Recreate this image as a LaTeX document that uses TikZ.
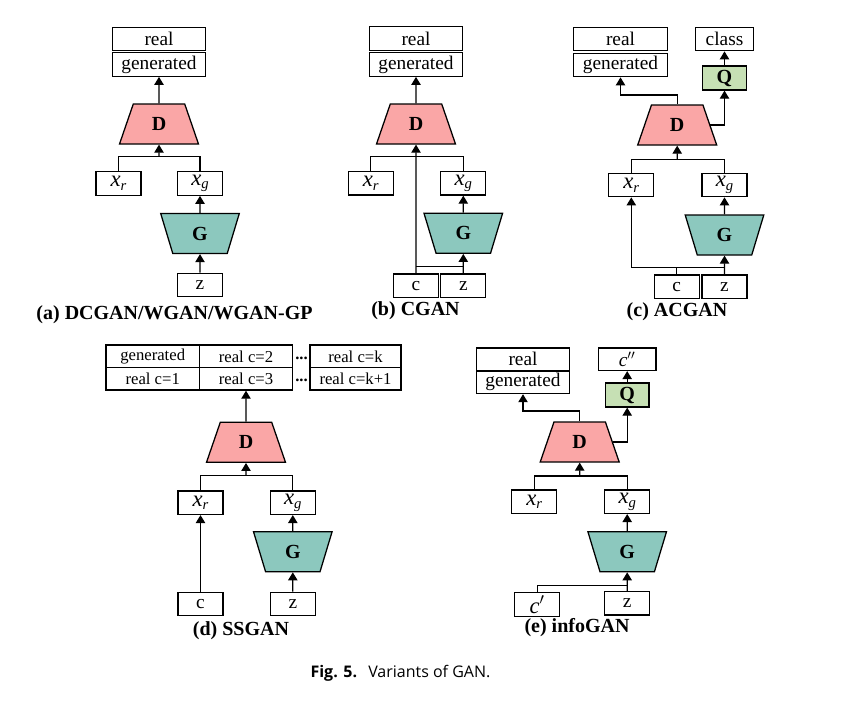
\documentclass[tikz,border=0pt]{standalone}
\usepackage{fontspec}
\setmainfont{Liberation Serif}
\newfontfamily\capfont{Open Sans}
\usetikzlibrary{shapes.geometric,arrows.meta}
\definecolor{dpink}{RGB}{250,166,166}
\definecolor{gteal}{RGB}{140,200,190}
\definecolor{qgreen}{RGB}{198,224,180}
\newcommand\myxr{{\fontsize{17}{18}\selectfont\textit{x}\raisebox{-0.35ex}{\fontsize{11}{12}\selectfont\textit{r}}}}
\newcommand\myxg{{\fontsize{17}{18}\selectfont\textit{x}\raisebox{-0.35ex}{\fontsize{11}{12}\selectfont\textit{g}}}}
\begin{document}
\begin{tikzpicture}[x=0.75pt,y=-0.75pt,line width=0.95pt,
  arr/.style={-{Triangle[length=6pt,width=7pt]}},
  tbox/.style={draw,inner sep=0pt,minimum height=17.6pt,font=\fontsize{14.5}{16}\selectfont},
  wbox/.style={tbox,minimum width=70pt},
  sbox/.style={tbox,minimum width=33.75pt},
  cbox/.style={tbox,minimum width=43.2pt},
  cell/.style={draw,inner sep=0pt,minimum width=70pt,minimum height=16.9pt,font=\fontsize{12.5}{14}\selectfont},
  dnode/.style={draw,fill=dpink,shape=trapezium,trapezium stretches=true,
    trapezium left angle=73.6,trapezium right angle=73.6,
    minimum width=59.25pt,minimum height=30pt,inner sep=0pt,font=\fontsize{15}{16}\selectfont\bfseries},
  gnode/.style={draw,fill=gteal,shape=trapezium,trapezium stretches=true,
    trapezium left angle=104.4,trapezium right angle=104.4,
    minimum width=59pt,minimum height=30pt,inner sep=0pt,font=\fontsize{15}{16}\selectfont\bfseries},
  qnode/.style={draw,fill=qgreen,inner sep=0pt,minimum width=32.6pt,minimum height=18pt,font=\fontsize{15}{16}\selectfont\bfseries},
  subcap/.style={font=\fontsize{15}{17}\selectfont\bfseries},
]
\useasboundingbox (0,0) rectangle (842,700);

% (a)
\node[wbox] (a-real) at (159,39) {real};
\node[wbox] (a-gen) at (159,64.5) {generated};
\node[dnode] (a-D) at (159,124) {D};
\node[sbox] (a-xr) at (118.5,183.5) {\myxr};
\node[sbox] (a-xg) at (200,183.5) {\myxg};
\node[gnode] (a-G) at (200,233.5) {G};
\node[sbox] (a-z) at (200,285) {z};
\coordinate (a-j) at (159,156.7);
\draw[arr] (a-D.north) -- (a-gen.south);
\draw (a-xr.north) |- (a-j) -| (a-xg.north);
\draw[arr] (a-j) -- (a-D.south);
\draw[arr] (a-G.north) -- (a-xg.south);
\draw[arr] (a-z.north) -- (a-G.south);
\node[subcap] (a-cap) at (174.5,315) {(a) DCGAN/WGAN/WGAN-GP};

% (b)
\node[wbox] (b-real) at (416,38.5) {real};
\node[wbox] (b-gen) at (416,64.5) {generated};
\node[dnode] (b-D) at (416,124) {D};
\node[sbox] (b-xr) at (370.8,183.3) {\myxr};
\node[sbox] (b-xg) at (463.3,183.3) {\myxg};
\node[gnode] (b-G) at (463.3,233.3) {G};
\node[sbox] (b-c) at (416,285.7) {c};
\node[sbox] (b-z) at (463.3,285.7) {z};
\coordinate (b-j) at (416,156.7);
\coordinate (b-k) at (416,266.7);
\draw[arr] (b-D.north) -- (b-gen.south);
\draw (b-xr.north) |- (b-j) -| (b-xg.north);
\draw[arr] (b-c.north) -- (b-D.south);
\draw (b-k) -- (b-z.north |- b-k);
\draw[arr] (b-G.north) -- (b-xg.south);
\draw[arr] (b-z.north) -- (b-G.south);
\node[subcap] (b-cap) at (415.5,311) {(b) CGAN};

% (c)
\node[wbox] (c-real) at (620.5,39) {real};
\node[wbox] (c-gen) at (620.5,65) {generated};
\node[cbox] (c-class) at (724.5,39) {class};
\node[qnode] (c-Q) at (724.5,78) {Q};
\node[dnode] (c-D) at (677.2,125) {D};
\node[sbox] (c-xr) at (631.3,185) {\myxr};
\node[sbox] (c-xg) at (724.5,185) {\myxg};
\node[gnode] (c-G) at (724.5,235) {G};
\node[sbox] (c-c) at (676.7,286.7) {c};
\node[sbox] (c-z) at (724.5,286.7) {z};
\coordinate (c-t) at (620.5,95);
\coordinate (c-j) at (677.2,159.3);
\coordinate (c-k) at (676.7,267.3);
\draw[arr] (c-D.north) |- (c-t) -- (c-gen.south);
\draw[arr] (c-D.east) -| (c-Q.south);
\draw[arr] (c-Q.north) -- (c-class.south);
\draw (c-xr.north) |- (c-j) -| (c-xg.north);
\draw[arr] (c-j) -- (c-D.south);
\draw (c-c.north) -- (c-k);
\draw[arr] (c-z.north |- c-k) -| (c-xr.south);
\draw[arr] (c-G.north) -- (c-xg.south);
\draw[arr] (c-z.north) -- (c-G.south);
\node[subcap] (c-cap) at (677,312) {(c) ACGAN};

% (d)
\node[cell] (d-g) at (152.7,356.3) {generated};
\node[cell] (d-r2) at (246,356.3) {real c=2};
\node[cell,minimum width=68.25pt] (d-rk) at (355.5,356.3) {real c=k};
\node[cell] (d-r1) at (152.7,378.8) {real c=1};
\node[cell] (d-r3) at (246,378.8) {real c=3};
\node[cell,minimum width=68.25pt] (d-rk1) at (355.5,378.8) {real c=k+1};
\node[inner sep=0pt,font=\fontsize{12.5}{14}\selectfont\bfseries] (d-dots1) at (301.5,358.3) {...};
\node[inner sep=0pt,font=\fontsize{12.5}{14}\selectfont\bfseries] (d-dots2) at (301.5,380.8) {...};
\node[dnode] (d-D) at (246,442.3) {D};
\node[sbox] (d-xr) at (200.5,502.7) {\myxr};
\node[sbox] (d-xg) at (292.8,502.7) {\myxg};
\node[gnode] (d-G) at (292.8,551.7) {G};
\node[sbox] (d-c) at (200.5,604) {c};
\node[sbox] (d-z) at (292.8,604) {z};
\coordinate (d-j) at (246,475.7);
\draw[arr] (d-D.north) -- (d-r3.south);
\draw (d-xr.north) |- (d-j) -| (d-xg.north);
\draw[arr] (d-j) -- (d-D.south);
\draw[arr] (d-G.north) -- (d-xg.south);
\draw[arr] (d-z.north) -- (d-G.south);
\draw[arr] (d-c.north) -- (d-xr.south);
\node[subcap] (d-cap) at (241,631) {(d) SSGAN};

% (e)
\node[wbox,minimum height=16.9pt] (e-real) at (523,359.2) {real};
\node[wbox,minimum height=16.9pt] (e-gen) at (523,382.3) {generated};
\node[cbox,minimum height=16.9pt] (e-cpp) at (627.2,359.2) {\textit{c}$''$};
\node[qnode] (e-Q) at (627.2,395) {Q};
\node[dnode] (e-D) at (579.7,442) {D};
\node[sbox] (e-xr) at (534.2,501.7) {\myxr};
\node[sbox] (e-xg) at (627.2,501.7) {\myxg};
\node[gnode] (e-G) at (627.2,551.7) {G};
\node[sbox] (e-cp) at (537.2,604.5) {{\fontsize{17}{18}\selectfont\textit{c}$'$}};
\node[sbox] (e-z) at (627.2,603.3) {z};
\coordinate (e-t) at (523,411);
\coordinate (e-j) at (579.7,476);
\coordinate (e-k) at (537.2,585.7);
\draw[arr] (e-D.north) |- (e-t) -- (e-gen.south);
\draw[arr] (e-D.east) -| (e-Q.south);
\draw[arr] (e-Q.north) -- (e-cpp.south);
\draw (e-xr.north) |- (e-j) -| (e-xg.north);
\draw[arr] (e-j) -- (e-D.south);
\draw[arr] (e-G.north) -- (e-xg.south);
\draw (e-cp.north) |- (e-z.north |- e-k);
\draw[arr] (e-z.north) -- (e-G.south);
\node[subcap] (e-cap) at (577,628) {(e) infoGAN};

% figure caption
\node (figcap) at (400.5,673) {\capfont\fontsize{12}{14}\selectfont\textbf{Fig. 5.}\hspace{0.7em}Variants of GAN.};
\end{tikzpicture}
\end{document}
